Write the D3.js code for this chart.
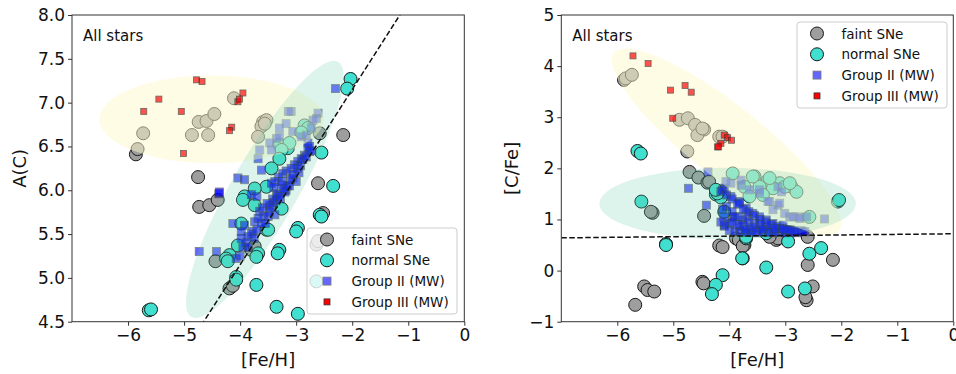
<!DOCTYPE html>
<html><head><meta charset="utf-8">
<script src="https://cdn.jsdelivr.net/npm/d3@7"></script>
<style>body{margin:0;background:#fff} text{font-family:"DejaVu Sans",sans-serif}</style>
</head><body><svg id="c" width="956" height="374"></svg>
<script>
// ---------------- DATA ----------------
const xTicks = [-6, -5, -4, -3, -2, -1, 0];
const leftYTicks = [4.5, 5.0, 5.5, 6.0, 6.5, 7.0, 7.5, 8.0];
const rightYTicks = [-1, 0, 1, 2, 3, 4, 5];
const legendLabels = ["faint SNe", "normal SNe", "Group II (MW)", "Group III (MW)"];
const panelTitle = "All stars";
const xLabel = "[Fe/H]";
const leftYLabel = "A(C)";
const rightYLabel = "[C/Fe]";

// Left panel: [Fe/H], A(C)
const leftFaint = [[-5.86,6.41],[-5.83,6.47],[-5.73,6.65],[-4.86,6.63],[-4.74,6.78],[-4.60,6.79],[-4.46,6.87],[-4.57,6.63],[-4.11,7.05],[-4.75,6.15],[-3.59,6.78],[-3.53,6.80],[-3.62,6.73],[-3.68,6.61],[-3.56,6.76],[-2.58,6.65],[-2.16,6.63],[-2.61,6.08],[-4.73,5.81],[-4.55,5.83],[-4.40,5.89],[-4.44,5.19],[-4.19,4.88],[-4.13,4.91],[-3.80,5.32],[-3.74,5.36],[-2.64,5.38],[-2.61,5.42],[-2.52,5.74]];
const leftNormal = [[-5.63,4.63],[-5.59,4.64],[-2.03,7.27],[-2.09,7.16],[-2.55,6.43],[-2.34,6.05],[-2.85,6.74],[-2.79,6.71],[-2.91,6.66],[-3.30,6.52],[-3.15,6.48],[-3.12,6.54],[-3.26,6.46],[-3.30,6.36],[-3.44,6.25],[-3.53,6.04],[-3.74,6.02],[-3.92,5.93],[-3.95,5.89],[-3.74,5.83],[-3.26,5.79],[-2.58,5.72],[-2.55,5.70],[-2.97,5.57],[-3.00,5.53],[-3.53,5.55],[-3.50,5.55],[-3.98,5.62],[-4.04,5.37],[-4.19,5.26],[-4.25,5.22],[-4.22,5.19],[-3.68,5.28],[-3.71,5.24],[-3.30,5.32],[-3.33,5.28],[-4.07,5.01],[-4.07,4.98],[-3.71,4.92],[-3.35,4.67],[-2.97,4.59],[-2.64,4.96]];
const leftGroupII = [[-4.73,5.30],[-4.42,5.30],[-4.38,5.96],[-2.30,7.16],
  [-3.09,6.90],[-3.14,6.90],[-2.61,6.88],[-2.64,6.82],[-2.70,6.80],[-3.18,6.76],[-3.30,6.71],[-3.35,6.59],[-3.30,6.61],[-3.06,6.67],[-2.91,6.61],[-3.47,6.54],[-3.65,6.46],[-3.68,6.36],[-3.44,6.46],[-2.73,6.71],[-2.82,6.63],
  [-2.79,6.48],[-2.76,6.44],[-2.79,6.54],[-2.85,6.40],[-2.91,6.36],[-2.97,6.33],[-3.03,6.29],[-3.09,6.25],[-3.18,6.22],[-3.24,6.19],[-3.32,6.15],[-3.38,6.10],[-3.44,6.08],[-3.40,6.03],[-3.26,6.06],[-3.06,6.14],[-3.00,6.10],[-3.18,6.00],[-3.35,5.96],[-3.62,6.23],[-4.04,6.14],[-3.92,6.12],[-4.37,5.98],[-3.80,5.95],[-3.70,5.93],[-3.30,5.95],[-3.20,5.98],[-3.65,5.76],[-3.47,5.83],[-3.40,5.86],[-3.38,5.72],[-3.50,5.70],[-3.74,5.64],[-4.13,5.62],[-3.92,5.60],[-3.77,5.53],[-3.98,5.53],[-3.86,5.47],[-3.98,5.45],[-4.07,5.22],[-2.95,6.20],[-3.12,6.05],
  [-4.00,5.25],[-3.95,5.35],[-3.90,5.40],[-3.85,5.35],[-3.80,5.50],[-3.75,5.45],[-3.70,5.55],[-3.62,5.62],[-3.58,5.70],[-3.55,5.62],[-3.48,5.75],[-3.45,5.80],[-3.42,5.90],[-3.36,5.88],[-3.33,5.93],[-3.28,5.90],[-3.22,6.02],[-3.15,6.05],[-3.10,6.12],[-3.05,6.18],[-2.98,6.25],[-2.92,6.28],[-2.88,6.35],[-2.82,6.38],[-2.76,6.50],[-2.72,6.45],[-3.52,5.85],[-3.60,5.80],[-3.25,6.10],[-3.68,5.68]];
const leftGroupIII = [[-5.72,6.90],[-5.45,7.04],[-5.05,6.90],[-4.78,7.26],[-4.68,7.24],[-5.01,6.42],[-4.15,6.72],[-4.19,6.68],[-4.04,7.01],[-3.95,7.11],[-4.01,7.04]];

// Right panel: [Fe/H], [C/Fe]
const rightFaint = [[-5.88,3.73],[-5.85,3.76],[-5.74,3.83],[-4.89,2.95],[-4.74,2.98],[-4.61,2.85],[-4.45,2.76],[-4.57,2.65],[-4.75,2.33],[-4.18,2.62],[-4.48,2.78],[-4.12,2.62],[-4.71,1.93],[-4.55,1.82],[-4.39,1.72],[-4.36,1.74],[-5.37,1.13],[-5.40,1.15],[-4.45,1.07],[-4.18,0.49],[-4.12,0.46],[-3.88,0.63],[-3.83,0.60],[-3.73,0.50],[-3.76,0.48],[-5.52,-0.31],[-5.46,-0.38],[-5.34,-0.41],[-5.68,-0.67],[-4.48,-0.22],[-4.46,-0.25],[-3.16,0.60],[-3.13,0.63],[-3.28,0.66],[-2.60,0.66],[-2.15,0.21],[-2.60,0.11],[-2.51,-0.31],[-2.62,-0.58],[-2.64,-0.52]];
const rightNormal = [[-5.64,2.34],[-5.58,2.29],[-5.57,1.35],[-5.13,0.52],[-5.13,0.50],[-4.24,1.49],[-4.15,1.43],[-4.09,1.15],[-3.76,0.24],[-4.12,-0.09],[-4.24,-0.28],[-4.31,-0.46],[-4.21,1.51],[-3.70,0.63],[-3.70,0.66],[-3.77,0.24],[-3.34,0.06],[-2.95,0.57],[-2.57,0.33],[-2.36,0.44],[-2.06,1.35],[-2.04,1.38],[-3.34,0.73],[-4.24,1.58],[-2.95,-0.41],[-2.65,-0.35],[-3.94,1.90],[-3.55,1.84],[-3.31,1.77],[-3.10,1.71],[-2.89,1.64],[-2.80,1.54],[-3.73,1.64],[-3.46,1.64],[-3.22,1.61],[-3.01,1.64],[-2.57,1.05],[-3.64,1.45],[-3.40,1.48],[-3.58,1.84],[-3.28,1.81],[-2.92,1.71]];
const rightGroupII = [[-4.73,1.61],[-4.41,1.28],[-4.38,1.93],[-4.09,0.87],[-4.12,1.58],[-3.94,1.05],[-3.82,1.35],[-4.09,1.61],[-3.97,1.45],[-3.82,1.32],[-3.70,1.22],[-3.58,1.12],[-3.46,1.05],[-3.34,0.99],[-3.22,0.92],[-3.10,0.83],[-2.98,0.79],[-2.83,0.76],[-2.69,0.76],[-3.40,0.76],[-3.25,0.76],[-3.10,0.75],[-3.64,0.79],[-3.82,0.86],[-4.00,0.92],[-4.09,0.89],[-3.91,1.05],[-3.76,0.99],[-3.55,0.92],[-3.34,0.86],[-3.04,0.89],[-3.46,0.83],[-2.90,0.80],[-3.52,0.78],[-3.70,1.05],
  [-3.28,1.35],[-3.13,1.28],[-2.92,1.05],[-2.77,1.05],[-2.62,1.05],[-2.30,1.01],[-3.46,1.51],[-3.64,1.58],[-3.79,1.67],[-3.97,1.71],[-3.13,1.64],[-3.10,1.32],[-3.31,1.35],[-3.79,1.77],[-3.46,1.58],[-3.07,1.54],[-2.86,1.05],[-2.74,1.02],[-3.01,1.12],[-3.22,1.19],[-4.06,1.74],
  [-4.00,0.78],[-3.90,0.76],[-3.80,0.76],[-3.70,0.75],[-3.60,0.75],[-3.50,0.74],[-3.30,0.74],[-3.20,0.75],[-3.00,0.74],[-2.90,0.75],[-2.78,0.74],[-2.72,0.78],[-2.65,0.76],
  [-4.15,1.55],[-4.05,1.48],[-3.95,1.40],[-3.85,1.30],[-3.75,1.20],[-3.65,1.15],[-3.55,1.08],[-3.45,1.00],[-3.35,0.95],[-3.25,0.90],[-3.15,0.86],[-3.05,0.82],[-2.95,0.79],[-2.85,0.78],
  [-4.05,1.25],[-3.95,1.15],[-3.85,1.05],[-3.95,0.95],[-3.85,0.90],[-3.75,0.88],[-3.65,0.95],[-3.60,0.85],[-3.45,0.90],[-3.40,0.80],[-3.20,0.82],[-3.00,0.80],[-4.12,1.20],[-4.10,1.05],[-4.15,0.95],[-3.72,0.80]];
const rightGroupIII = [[-5.72,4.20],[-5.45,4.05],[-5.05,3.53],[-4.79,3.62],[-4.68,3.49],[-5.01,2.98],[-4.21,2.42],[-4.09,2.65],[-4.03,2.60],[-3.96,2.55],[-4.15,2.49],[-4.19,2.42]];

// Ellipses: [cx, cy, ux, uy, vx, vy] (centre and two half-axis vectors, data units)
const leftYellowEllipse = [-4.51, 6.81, 2.0, 0, 0, 0.5];
const leftTealEllipse = [-3.56, 6.01, 1.31, 1.455, 0.512, -0.187];
const rightYellowEllipse = [-4.05, 2.52, 2.01, -1.74, -0.40, -0.552];
const rightTealEllipse = [-4.03, 1.31, 2.29, 0, 0, 0.70];

// Reference dashed lines
const leftRefLine = [[-7, 2.15], [0, 9.15]];
const rightRefLine = [[-7, 0.64], [0, 0.72]];

// ---------------- DRAWING ----------------
const svg = d3.select("#c");
const COL = {faint:"#9e9e9e", normal:"#40e0d0", g2:"#0000ff", g3:"#ff0000", edge:"#1a1a1a"};

function drawPanel(cfg) {
  const x = d3.scaleLinear().domain([-7, 0]).range([cfg.x0, cfg.x1]);
  const y = d3.scaleLinear().domain(cfg.yDomain).range([cfg.y1, cfg.y0]);
  const g = svg.append("g");
  const clipId = "clip" + cfg.id;
  svg.append("clipPath").attr("id", clipId).append("rect")
    .attr("x", cfg.x0).attr("y", cfg.y0).attr("width", cfg.x1 - cfg.x0).attr("height", cfg.y1 - cfg.y0);
  const pg = g.append("g").attr("clip-path", `url(#${clipId})`);

  // points
  pg.append("g").selectAll("circle").data(cfg.faint).join("circle")
    .attr("cx", d => x(d[0])).attr("cy", d => y(d[1])).attr("r", 6.5)
    .attr("fill", COL.faint).attr("stroke", COL.edge).attr("stroke-width", 1);
  pg.append("g").selectAll("circle").data(cfg.normal).join("circle")
    .attr("cx", d => x(d[0])).attr("cy", d => y(d[1])).attr("r", 6.5)
    .attr("fill", COL.normal).attr("stroke", COL.edge).attr("stroke-width", 1);
  const s2 = 8;
  pg.append("g").selectAll("rect").data(cfg.g2).join("rect")
    .attr("x", d => x(d[0]) - s2/2).attr("y", d => y(d[1]) - s2/2).attr("width", s2).attr("height", s2)
    .attr("fill", COL.g2).attr("stroke", "#222").attr("stroke-width", 0.8).attr("opacity", 0.6);

  // ellipses
  const tt = d3.range(0, 361, 4).map(a => a * Math.PI / 180);
  const ell = e => d3.line()(tt.map(t => [
    x(e[0] + e[2]*Math.cos(t) + e[4]*Math.sin(t)),
    y(e[1] + e[3]*Math.cos(t) + e[5]*Math.sin(t))])) + "Z";
  pg.append("path").attr("d", ell(cfg.yellow)).attr("fill", "#fffacd").attr("opacity", 0.5);
  pg.append("path").attr("d", ell(cfg.teal)).attr("fill", "#66cdaa").attr("opacity", 0.22);

  const s3 = 6;
  pg.append("g").selectAll("rect").data(cfg.g3).join("rect")
    .attr("x", d => x(d[0]) - s3/2).attr("y", d => y(d[1]) - s3/2).attr("width", s3).attr("height", s3)
    .attr("fill", COL.g3).attr("stroke", "#222").attr("stroke-width", 0.8).attr("opacity", 0.68);

  // reference line
  pg.append("path").attr("d", d3.line().x(d => x(d[0])).y(d => y(d[1]))(cfg.ref))
    .attr("fill", "none").attr("stroke", "#111").attr("stroke-width", 1.5).attr("stroke-dasharray", "5.5,2.5");

  // axes
  const ax = g.append("g").attr("transform", `translate(0,${cfg.y1})`)
    .call(d3.axisBottom(x).tickValues(xTicks).tickSize(4).tickPadding(3).tickFormat(d3.format("d")));
  const ay = g.append("g").attr("transform", `translate(${cfg.x0},0)`)
    .call(d3.axisLeft(y).tickValues(cfg.yTicks).tickSize(4).tickPadding(3).tickFormat(d3.format(cfg.yFmt)));
  [ax, ay].forEach(a => {
    a.select(".domain").remove();
    a.selectAll("line").attr("stroke", "#333");
    a.selectAll("text").attr("font-size", 17).attr("fill", "#111").attr("font-family", "DejaVu Sans");
  });
  g.append("rect").attr("x", cfg.x0).attr("y", cfg.y0).attr("width", cfg.x1 - cfg.x0).attr("height", cfg.y1 - cfg.y0)
    .attr("fill", "none").attr("stroke", "#333").attr("stroke-width", 1);

  // labels
  g.append("text").attr("x", (cfg.x0 + cfg.x1)/2).attr("y", 365.5).attr("text-anchor", "middle")
    .attr("font-size", 18).attr("fill", "#111").text(xLabel);
  g.append("text").attr("transform", `translate(${cfg.ylabX},${(cfg.y0 + cfg.y1)/2}) rotate(-90)`)
    .attr("text-anchor", "middle").attr("font-size", 18).attr("fill", "#111").text(cfg.yLabel);
  g.append("text").attr("x", cfg.x0 + 11).attr("y", 41).attr("font-size", 15).attr("fill", "#111").text(panelTitle);

  // legend
  const L = g.append("g").attr("transform", `translate(${cfg.legX},${cfg.legY})`);
  L.append("rect").attr("x", 0).attr("y", 0).attr("width", 150).attr("height", 86).attr("rx", 3)
    .attr("fill", "#fff").attr("fill-opacity", 0.8).attr("stroke", "#cccccc").attr("stroke-width", 1);
  legendLabels.forEach((lab, i) => {
    const cy = 11.5 + i * 20.8, mx = 20;
    if (i === 0 || i === 1) {
      L.append("circle").attr("cx", mx).attr("cy", cy).attr("r", 6.5)
        .attr("fill", i === 0 ? COL.faint : COL.normal).attr("stroke", COL.edge).attr("stroke-width", 1);
    } else if (i === 2) {
      L.append("rect").attr("x", mx - 4).attr("y", cy - 4).attr("width", 8).attr("height", 8)
        .attr("fill", COL.g2).attr("stroke", "#222").attr("stroke-width", 0.8).attr("opacity", 0.6);
    } else {
      L.append("rect").attr("x", mx - 3).attr("y", cy - 3).attr("width", 6).attr("height", 6)
        .attr("fill", COL.g3).attr("stroke", "#333").attr("stroke-width", 0.8);
    }
    L.append("text").attr("x", 44.5).attr("y", cy + 5).attr("font-size", 13.5).attr("fill", "#111").text(lab);
  });
}

drawPanel({id: "L", x0: 72, x1: 464.3, y0: 15, y1: 321.7, yDomain: [4.5, 8], yTicks: leftYTicks, yFmt: ".1f",
  faint: leftFaint, normal: leftNormal, g2: leftGroupII, g3: leftGroupIII,
  yellow: leftYellowEllipse, teal: leftTealEllipse, ref: leftRefLine,
  yLabel: leftYLabel, ylabX: 26, legX: 307, legY: 228});
drawPanel({id: "R", x0: 561.3, x1: 953.3, y0: 15, y1: 321.7, yDomain: [-1, 5], yTicks: rightYTicks, yFmt: "d",
  faint: rightFaint, normal: rightNormal, g2: rightGroupII, g3: rightGroupIII,
  yellow: rightYellowEllipse, teal: rightTealEllipse, ref: rightRefLine,
  yLabel: rightYLabel, ylabX: 518, legX: 797, legY: 22});
</script></body></html>
